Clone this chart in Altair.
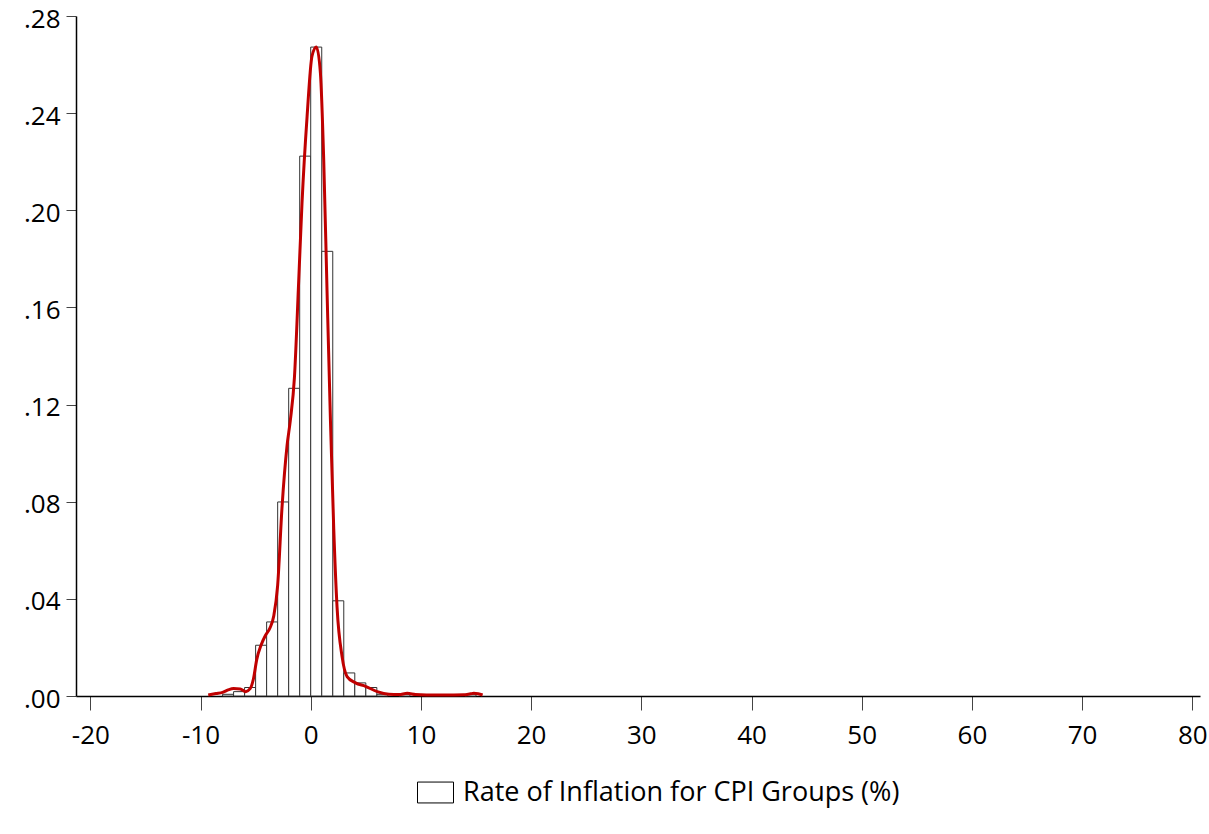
import altair as alt
import pandas as pd

# Histogram bins (unit width) and densities
bin_start = [-8, -7, -6, -5, -4, -3, -2, -1, 0, 1, 2, 3, 4, 5, 6, 8, 14]
bin_end   = [-7, -6, -5, -4, -3, -2, -1, 0, 1, 2, 3, 4, 5, 6, 7, 9, 15]
density   = [0.0007, 0.0018, 0.0035, 0.0209, 0.0305, 0.0799, 0.1267, 0.2223,
             0.2672, 0.1831, 0.0392, 0.0095, 0.0054, 0.0035, 0.0007, 0.0007, 0.0007]

# Kernel density curve points
kde_x = [-9.3, -8.6, -8.0, -7.5, -7.0, -6.4, -5.9, -5.5, -5.2, -4.9, -4.5, -4.1,
         -3.7, -3.35, -3.0, -2.6, -2.15, -1.85, -1.48, -1.09, -0.79, -0.33, 0.12,
         0.52, 0.88, 1.18, 1.48, 1.79, 2.09, 2.39, 2.85, 3.3, 4.06, 4.97, 6.03,
         7.1, 8.0, 8.76, 9.5, 10.5, 12.1, 13.9, 14.5, 14.8, 15.2, 15.6]
kde_y = [0.0004, 0.0010, 0.0015, 0.0025, 0.0031, 0.0029, 0.0018, 0.0030, 0.0070,
         0.0150, 0.0210, 0.0250, 0.0280, 0.0330, 0.0456, 0.0780, 0.1030, 0.1135,
         0.1310, 0.1710, 0.2030, 0.2386, 0.2636, 0.2672, 0.2565, 0.2207, 0.1670,
         0.1135, 0.0688, 0.0366, 0.0161, 0.0080, 0.0054, 0.0040, 0.0018, 0.0007,
         0.0006, 0.0011, 0.0006, 0.0004, 0.0004, 0.0005, 0.0009, 0.0011, 0.0009, 0.0004]

x_ticks = [-20, -10, 0, 10, 20, 30, 40, 50, 60, 70, 80]
y_ticks = [0.0, 0.04, 0.08, 0.12, 0.16, 0.20, 0.24, 0.28]
series_name = "Rate of Inflation for CPI Groups (%)"

bars = pd.DataFrame({"start": bin_start, "end": bin_end, "density": density,
                     "series": series_name})
kde = pd.DataFrame({"x": kde_x, "y": kde_y})

FONT = "Open Sans"

x_scale = alt.Scale(domain=[-21.3, 80.7], nice=False, zero=False)
y_scale = alt.Scale(domain=[0, 0.28], nice=False)

x_axis = alt.Axis(values=x_ticks, title=None, grid=False, tickSize=14,
                  tickColor="#444", domainColor="#000", domainWidth=1.5,
                  labelFont=FONT, labelFontSize=26, labelColor="#000",
                  labelPadding=12,
                  labelExpr="datum.value < 0 ? '-' + abs(datum.value) : '' + datum.value")
y_axis = alt.Axis(values=y_ticks, title=None, grid=False, tickSize=10,
                  tickColor="#444", domainColor="#000", domainWidth=1.5,
                  labelFont=FONT, labelFontSize=26, labelColor="#000",
                  labelPadding=6, labelOffset=3,
                  labelExpr="substring(format(datum.value, '.2f'), 1)")

hist = alt.Chart(bars).mark_rect(stroke="#333", strokeWidth=1).encode(
    x=alt.X("start:Q", scale=x_scale, axis=x_axis),
    x2="end:Q",
    y=alt.Y("density:Q", scale=y_scale, axis=y_axis),
    y2=alt.datum(0),
    fill=alt.Fill("series:N",
                  scale=alt.Scale(domain=[series_name], range=["white"]),
                  legend=alt.Legend(
                      title=None, orient="none", legendX=341, legendY=758,
                      symbolType="M-1,-0.58L1,-0.58L1,0.58L-1,0.58Z",
                      symbolSize=1296, symbolStrokeColor="#000",
                      symbolStrokeWidth=1, symbolFillColor="white",
                      labelFont=FONT, labelFontSize=27, labelColor="#000",
                      labelOffset=9, labelLimit=700)),
)

line = alt.Chart(kde).mark_line(color="#C00000", strokeWidth=3,
                                interpolate="monotone").encode(
    x=alt.X("x:Q", scale=x_scale),
    y=alt.Y("y:Q", scale=y_scale),
)

chart = alt.layer(hist, line).properties(
    width=1124, height=680,
    autosize=alt.AutoSizeParams(type="none"),
    padding={"left": 76, "top": 16, "right": 9, "bottom": 138},
    background="white",
).configure_view(stroke=None)

chart.save("out.html", embed_options={"renderer": "svg", "actions": False})
